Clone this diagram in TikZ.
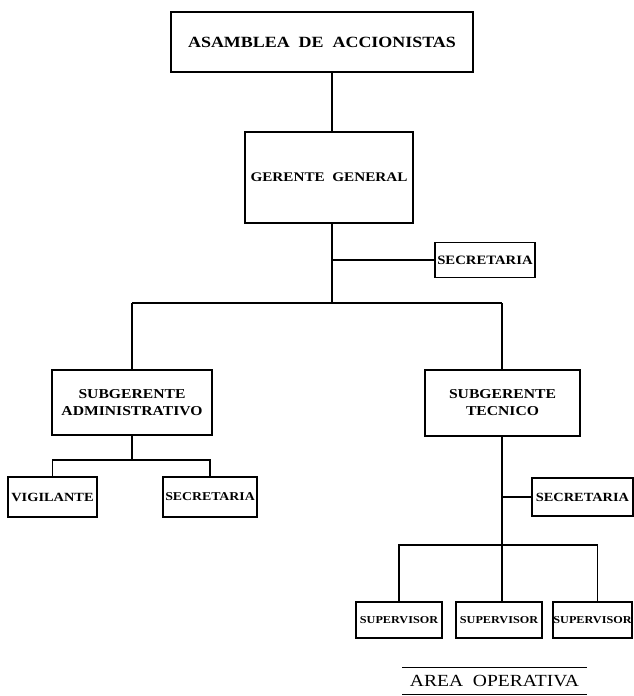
\documentclass[tikz,border=0pt]{standalone}
\usepackage{fontspec}
\setmainfont{Liberation Serif}
\newfontfamily\wideserif[FakeStretch=1.15]{Liberation Serif}
\begin{document}
\begin{tikzpicture}[x=1pt,y=-1pt,
  box/.style={draw,line width=1.6pt,inner sep=0pt,align=center},
  conn/.style={line width=1.6pt}]
\useasboundingbox (0,0) rectangle (634,696);
\node[box,minimum width=302pt,minimum height=60pt,font=\wideserif\bfseries\fontsize{15.6}{19}\selectfont] (asam) at (322,42) {ASAMBLEA\ \ DE\ \ ACCIONISTAS};
\node[box,minimum width=168pt,minimum height=91pt,font=\wideserif\bfseries\fontsize{13.2}{16}\selectfont] (ger) at (329,177.5) {GERENTE\ \ GENERAL};
\node[box,minimum width=100pt,minimum height=35pt,font=\wideserif\bfseries\fontsize{12.8}{14}\selectfont] (sec1) at (485,260) {SECRETARIA};
\node[box,minimum width=160pt,minimum height=65pt,font=\wideserif\bfseries\fontsize{13.6}{17}\selectfont] (subA) at (132,402.5) {SUBGERENTE\\ADMINISTRATIVO};
\node[box,minimum width=155pt,minimum height=66pt,font=\wideserif\bfseries\fontsize{13.6}{17}\selectfont] (subT) at (502.5,403) {SUBGERENTE\\TECNICO};
\node[box,minimum width=89pt,minimum height=40pt,font=\wideserif\bfseries\fontsize{12.5}{14}\selectfont] (vig) at (52.5,497) {VIGILANTE};
\node[box,minimum width=94pt,minimum height=40pt,font=\wideserif\bfseries\fontsize{12}{14}\selectfont] (secA) at (210,497) {SECRETARIA};
\node[box,minimum width=101pt,minimum height=38pt,font=\wideserif\bfseries\fontsize{12.5}{14}\selectfont] (secT) at (582.5,497) {SECRETARIA};
\node[box,minimum width=86pt,minimum height=36pt,font=\wideserif\bfseries\fontsize{10.6}{12}\selectfont] (sup1) at (399,620) {SUPERVISOR};
\node[box,minimum width=86pt,minimum height=36pt,font=\wideserif\bfseries\fontsize{10.6}{12}\selectfont] (sup2) at (499,620) {SUPERVISOR};
\node[box,minimum width=79pt,minimum height=36pt,font=\wideserif\bfseries\fontsize{10.6}{12}\selectfont] (sup3) at (592.5,620) {SUPERVISOR};
\node[font=\wideserif\fontsize{17}{20}\selectfont] (area) at (494.5,681) {AREA\ \ OPERATIVA};
\coordinate (j1) at (332,260);
\coordinate (j2) at (332,303);
\coordinate (bl) at (132,303);
\coordinate (br) at (502,303);
\coordinate (ja) at (132,460);
\coordinate (jt1) at (502,497);
\coordinate (jt2) at (502,545);
\coordinate (l1) at (402,667);
\coordinate (l2) at (587,667);
\coordinate (l3) at (402,694);
\coordinate (l4) at (587,694);
\draw[conn] (asam.south -| j1) -- (ger.north -| j1);
\draw[conn] (ger.south -| j1) -- (j2);
\draw[conn] (j1) -- (sec1.west);
\draw[conn] (bl) -- (br);
\draw[conn] (bl) -- (subA.north);
\draw[conn] (br) -- (subT.north -| br);
\draw[conn] (subA.south) -- (ja);
\draw[conn] (vig.north) -- (vig.north |- ja) -- (secA.north |- ja) -- (secA.north);
\draw[conn] (subT.south -| jt2) -- (jt2);
\draw[conn] (jt1) -- (secT.west);
\draw[conn] (sup1.north) -- (sup1.north |- jt2) -- ([xshift=5pt]sup3.north |- jt2) -- ([xshift=5pt]sup3.north);
\draw[conn] (jt2) -- (sup2.north -| jt2);
\draw[line width=1pt] (l1) -- (l2);
\draw[line width=1pt] (l3) -- (l4);
\end{tikzpicture}
\end{document}
